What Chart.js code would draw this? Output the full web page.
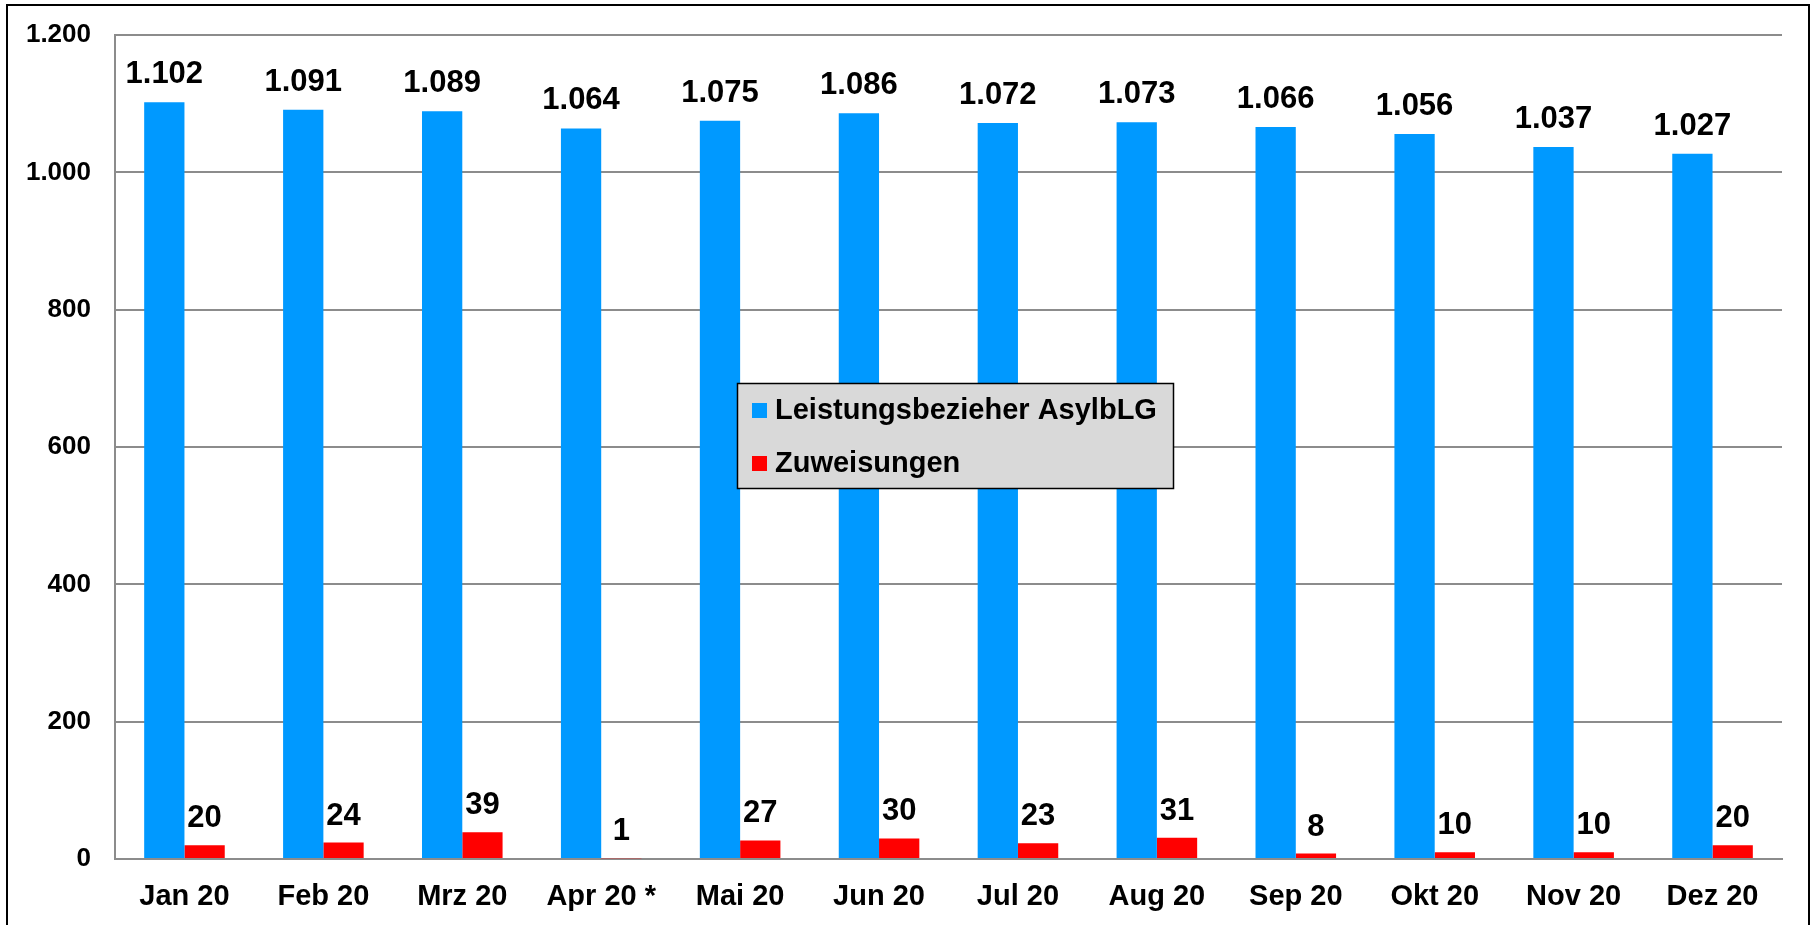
<!DOCTYPE html>
<html>
<head>
<meta charset="utf-8">
<script src="https://cdn.jsdelivr.net/npm/chart.js@4/dist/chart.umd.min.js"></script>
<style>
  html, body { margin: 0; padding: 0; background: #ffffff; }
  #wrap { width: 1810px; height: 925px; position: relative; }
</style>
</head>
<body>
<div id="wrap"><canvas id="c" width="1810" height="925"></canvas></div>
<script>
const categories = ['Jan 20', 'Feb 20', 'Mrz 20', 'Apr 20 *', 'Mai 20', 'Jun 20', 'Jul 20', 'Aug 20', 'Sep 20', 'Okt 20', 'Nov 20', 'Dez 20'];
const leistungsbezieher = [1102, 1091, 1089, 1064, 1075, 1086, 1072, 1073, 1066, 1056, 1037, 1027];
const zuweisungen = [20, 24, 39, 1, 27, 30, 23, 31, 8, 10, 10, 20];
const seriesLabels = ['Leistungsbezieher AsylbLG', 'Zuweisungen'];
const yMin = 0, yMax = 1200, yStep = 200;

const FONT = '"Liberation Sans", Arial, "DejaVu Sans", sans-serif';
const GRID = '#8c8c8c';

function fmt(n) {
  return String(n).replace(/\B(?=(\d{3})+(?!\d))/g, '.');
}

const framePlugin = {
  id: 'frame',
  beforeDraw(chart) {
    const ctx = chart.ctx;
    ctx.save();
    ctx.fillStyle = '#ffffff';
    ctx.fillRect(0, 0, chart.width, chart.height);
    ctx.strokeStyle = '#000000';
    ctx.lineWidth = 2;
    ctx.strokeRect(7, 5, chart.width - 8, chart.height + 10);
    ctx.restore();
  }
};

const labelPlugin = {
  id: 'valueLabels',
  afterDatasetsDraw(chart) {
    const ctx = chart.ctx;
    ctx.save();
    ctx.font = 'bold 31px ' + FONT;
    ctx.fillStyle = '#000000';
    ctx.textAlign = 'center';
    ctx.textBaseline = 'alphabetic';
    chart.data.datasets.forEach((ds, di) => {
      const meta = chart.getDatasetMeta(di);
      meta.data.forEach((bar, i) => {
        const off = di === 0 ? 19 : 18;
        ctx.fillText(fmt(ds.data[i]), bar.x, bar.y - off);
      });
    });
    ctx.restore();
  }
};

const legendPlugin = {
  id: 'boxLegend',
  afterDraw(chart) {
    const ctx = chart.ctx;
    const x = 737, y = 383, w = 436, h = 105;
    ctx.save();
    ctx.fillStyle = '#d9d9d9';
    ctx.fillRect(x, y, w, h);
    ctx.strokeStyle = '#000000';
    ctx.lineWidth = 1.5;
    ctx.strokeRect(x + 0.5, y + 0.5, w, h);
    ctx.font = 'bold 29px ' + FONT;
    ctx.textAlign = 'left';
    ctx.textBaseline = 'middle';
    const rows = [410, 463];
    chart.data.datasets.forEach((ds, i) => {
      const cy = rows[i];
      ctx.fillStyle = ds.backgroundColor;
      ctx.fillRect(752, cy - 7, 15, 15);
      ctx.fillStyle = '#000000';
      ctx.fillText(ds.label, 775, cy + 1);
    });
    ctx.restore();
  }
};

new Chart(document.getElementById('c'), {
  type: 'bar',
  data: {
    labels: categories,
    datasets: [
      { label: seriesLabels[0], data: leistungsbezieher, backgroundColor: '#0099ff',
        categoryPercentage: 0.58, barPercentage: 1.0, borderWidth: 0 },
      { label: seriesLabels[1], data: zuweisungen, backgroundColor: '#ff0000',
        categoryPercentage: 0.58, barPercentage: 1.0, borderWidth: 0 }
    ]
  },
  options: {
    responsive: false,
    devicePixelRatio: 1,
    animation: false,
    layout: { padding: { left: 0, right: 28, top: 35, bottom: 0 } },
    plugins: { legend: { display: false }, tooltip: { enabled: false } },
    scales: {
      x: {
        grid: { display: false },
        border: { display: true, color: GRID, width: 2 },
        ticks: { color: '#000000', font: { family: FONT, size: 29, weight: 'bold' },
                 padding: 13, maxRotation: 0, autoSkip: false },
        afterFit(s) { s.height = 66; s.paddingLeft = 0; s.paddingRight = 0; }
      },
      y: {
        min: yMin, max: yMax,
        grid: { color: GRID, lineWidth: 2, drawTicks: false },
        border: { display: true, color: GRID, width: 2 },
        ticks: { stepSize: yStep, color: '#000000', padding: 24,
                 font: { family: FONT, size: 26, weight: 'bold' },
                 callback: (v) => fmt(v) },
        afterFit(s) { s.width = 115; s.paddingTop = 0; s.paddingBottom = 0; }
      }
    }
  },
  plugins: [framePlugin, labelPlugin, legendPlugin]
});
</script>
</body>
</html>
